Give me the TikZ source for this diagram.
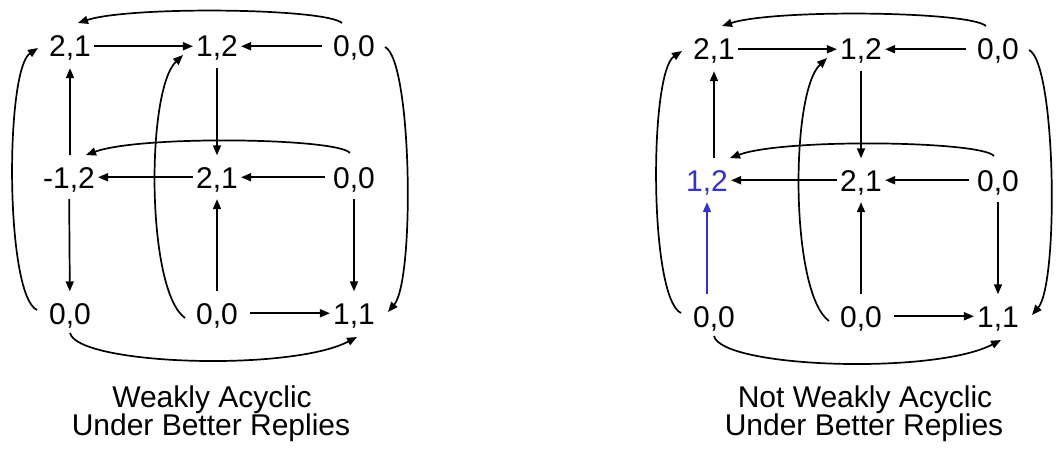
\documentclass[tikz,border=0pt]{standalone}
\usepackage{fontspec}
\setmainfont{Liberation Sans}
\usetikzlibrary{arrows.meta}
\definecolor{bluec}{RGB}{51,51,204}
\newcommand\statefont{\fontsize{30}{36}\selectfont}
\tikzset{
  state/.style={font=\statefont, inner xsep=3pt, inner ysep=11pt, text height=21.5pt, text depth=0pt, anchor=base},
  caption/.style={font=\statefont, inner sep=0pt, anchor=base},
  edge/.style={-{Triangle[length=10pt,width=8pt]}, line width=1.7pt},
  blueedge/.style={edge, draw=bluec, fill=bluec},
}
% #1 prefix, #2 dx, #3 dy, #4 r2c1 label, #5 r2c1 x, #6 r2c1 colour
\newcommand\gamepanel[6]{%
  \node[state] (#111) at (#2+70,#3+57) {2,1};
  \node[state] (#112) at (#2+217,#3+57) {1,2};
  \node[state] (#113) at (#2+354,#3+57) {0,0};
  \node[state,text=#6] (#121) at (#2+#5,#3+188) {#4};
  \node[state] (#122) at (#2+217,#3+188) {2,1};
  \node[state] (#123) at (#2+354,#3+188) {0,0};
  \node[state] (#131) at (#2+70,#3+324) {0,0};
  \node[state] (#132) at (#2+217,#3+324) {0,0};
  \node[state] (#133) at (#2+354,#3+324) {1,1};
  % straight connectors
  \draw[edge] (#111) -- (#112);
  \draw[edge, shorten <=8pt] (#113) -- (#112);
  \draw[edge] (#112) -- (#122);
  \draw[edge] (#121.north -| #111.south) -- (#111);
  \draw[edge] (#122) -- (#121);
  \draw[edge, shorten <=5pt] (#123) -- (#122);
  \draw[edge] (#132) -- (#122);
  \draw[edge] (#123) -- (#133);
  \draw[edge, shorten <=9pt] (#132) -- (#133);
  % curved connectors
  \draw[edge] ([shift={(-12,-34)}]#113.base) .. controls +(-17,-15) and +(52,-17) .. ([shift={(8,-34)}]#111.base);
  \draw[edge] ([shift={(-4,-35)}]#123.base) .. controls +(-12,-15) and +(55,-20) .. ([shift={({86-#5},-33)}]#121.base);
  \draw[edge] ([shift={(31,-10)}]#113.base) .. controls +(27,13) and +(27,-32) .. ([shift={(34,-12)}]#133.base);
  \draw[edge] ([shift={(-33,-14)}]#131.base) .. controls +(-32,-15) and +(-33,22) .. ([shift={(-32,-9)}]#111.base);
  \draw[edge] ([shift={(-32,-6)}]#132.base) .. controls +(-39,-28) and +(-37,35) .. ([shift={(-34,-2)}]#112.base);
  \draw[edge] ([shift={(0,9)}]#131.base) .. controls +(8,32) and +(-67,35) .. ([shift={(3,13)}]#133.base);
}
\begin{document}
\begin{tikzpicture}[x=1pt, y=-1pt]
  \useasboundingbox (0,0) rectangle (1056,449);
  \gamepanel{L}{0}{0}{-1,2}{69}{black}
  \draw[edge] (L21) -- (L31);
  \node[caption] (Lcap1) at (212,407) {Weakly Acyclic};
  \node[caption] (Lcap2) at (211,435) {Under Better Replies};
  \gamepanel{R}{644}{3}{1,2}{63}{bluec}
  \draw[blueedge] (R31.north -| R21.south) -- (R21);
  \node[caption] (Rcap1) at (865,407) {Not Weakly Acyclic};
  \node[caption] (Rcap2) at (864,435) {Under Better Replies};
\end{tikzpicture}
\end{document}
